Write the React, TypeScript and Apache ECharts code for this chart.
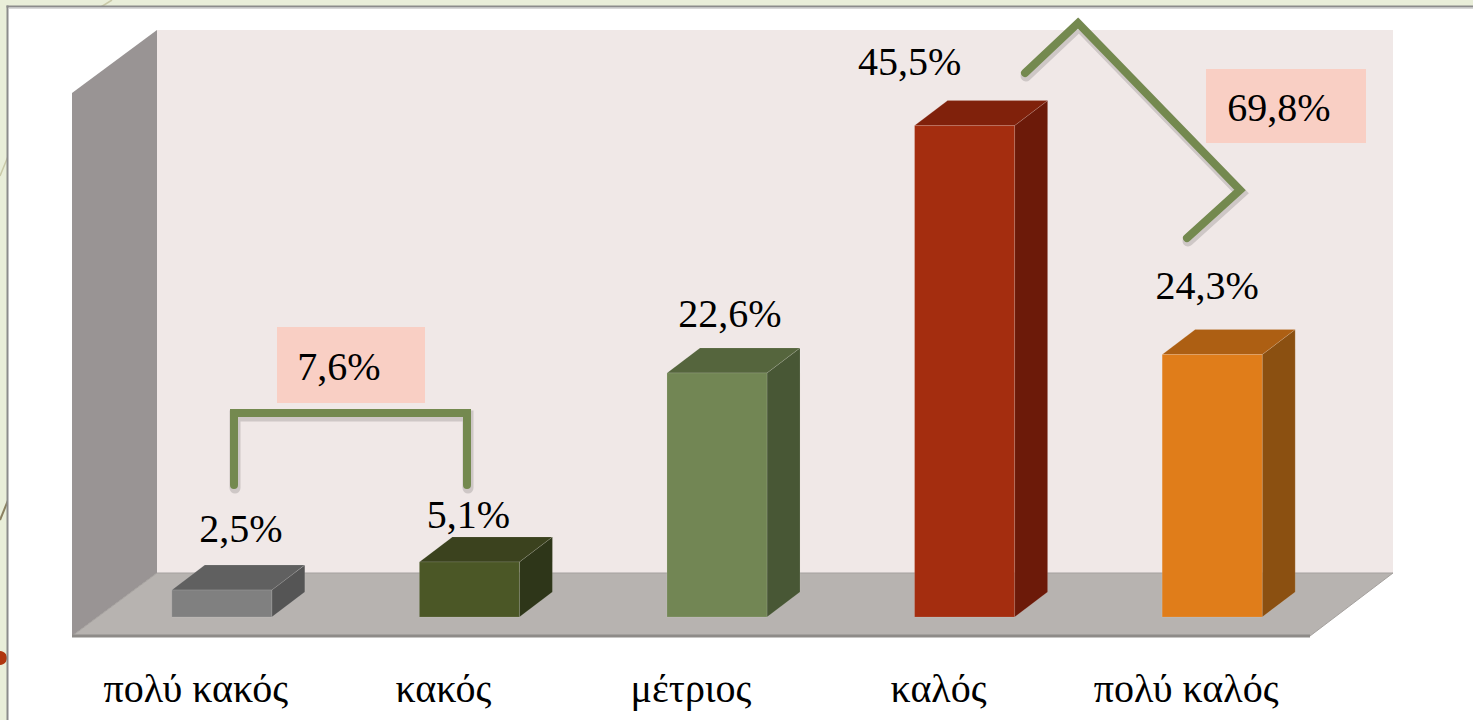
import React, { useEffect, useRef } from "react";
import * as echarts from "echarts";

// ---- data ----
const categories = ["πολύ κακός", "κακός", "μέτριος", "καλός", "πολύ καλός"];
const values = [2.5, 5.1, 22.6, 45.5, 24.3];
const valueLabels = ["2,5%", "5,1%", "22,6%", "45,5%", "24,3%"];
const groupLabels = ["7,6%", "69,8%"];

// ---- styles ----
const frontColors = ["#808080", "#4b5726", "#728654", "#a42d0f", "#e07d1a"];
const topColors = ["#606060", "#3b421e", "#55653d", "#80210b", "#ad5f13"];
const sideColors = ["#555555", "#2e3619", "#485735", "#6c1a09", "#8b5011"];
// label nudges relative to the bar's front-top centre
const labelNudge = [
  [19, -62],
  [-1, -47],
  [13, -59],
  [-55, -64],
  [-5, -69],
];

const FONT = "serif";
const FONT_SHORT = "40px 'Liberation Serif', serif";
const GREEN = "#74894f";

export default function App() {
  const ref = useRef<HTMLDivElement>(null);

  useEffect(() => {
    if (!ref.current) return;
    const chart = echarts.init(ref.current, undefined, { renderer: "svg" });

    const bracketStyle = {
      stroke: GREEN,
      lineWidth: 8,
      lineCap: "round",
      lineJoin: "miter",
      fill: null,
    };
    const shadowStyle = {
      stroke: "rgba(0,0,0,0.14)",
      lineWidth: 11,
      lineCap: "round",
      lineJoin: "miter",
      fill: null,
    };

    const txt = (text: string) => ({
      text,
      font: FONT_SHORT,
      fill: "#000",
      align: "center",
      verticalAlign: "middle",
    });

    const bracket1 = [[234, 485], [234, 413], [467, 413], [467, 485]];
    const bracket2 = [[1025, 73], [1078, 23], [1240, 190], [1187, 238]];
    const shift = (pts: number[][]) => pts.map((p) => [p[0] + 1, p[1] + 3]);

    const option: any = {
      animation: false,
      grid: { left: 72, top: 96, width: 1238, height: 540 },
      xAxis: {
        type: "category",
        data: categories,
        axisLine: { show: false },
        axisTick: { show: false },
        splitLine: { show: false },
        axisLabel: {
          interval: 0,
          margin: 32,
          fontSize: 40,
          fontFamily: FONT,
          color: "#000",
        },
      },
      yAxis: { type: "value", min: 0, max: 50, show: false },
      graphic: {
        elements: [
          // page background and decorations in the green margin
          { type: "rect", z: -10, shape: { x: 0, y: 0, width: 1473, height: 720 }, style: { fill: "#e9eed9" } },
          { type: "line", z: 0, shape: { x1: 112, y1: 0, x2: 96, y2: 10 }, style: { stroke: "#c9c9a8", lineWidth: 1.5 } },
          { type: "line", z: 0, shape: { x1: 0, y1: 176, x2: 9, y2: 154 }, style: { stroke: "#c9c9a8", lineWidth: 1.5 } },
          { type: "line", z: 0, shape: { x1: 0, y1: 520, x2: 9, y2: 498 }, style: { stroke: "#8a8060", lineWidth: 2 } },
          { type: "circle", z: 0, shape: { cx: 0, cy: 658, r: 7 }, style: { fill: "#b0360f" } },
          // white panel
          { type: "rect", z: 0, shape: { x: 8, y: 7, width: 1465, height: 713 }, style: { fill: "#ffffff" } },
          { type: "line", z: 0, shape: { x1: 7.5, y1: 5.5, x2: 7.5, y2: 720 }, style: { stroke: "#8c8c8c", lineWidth: 2 } },
          { type: "line", z: 0, shape: { x1: 6.5, y1: 6.5, x2: 1473, y2: 6.5 }, style: { stroke: "#8c8c8c", lineWidth: 2 } },
          { type: "line", z: 0, shape: { x1: 9, y1: 8.5, x2: 1473, y2: 8.5 }, style: { stroke: "#d8d8d8", lineWidth: 1 } },
          // back wall
          { type: "rect", z: 1, shape: { x: 157, y: 30, width: 1236, height: 543 }, style: { fill: "#f0e8e7" } },
          // left wall
          {
            type: "polygon",
            z: 1,
            shape: { points: [[72, 93], [157, 30], [157, 573], [72, 636]] },
            style: { fill: "#999494" },
          },
          // floor
          {
            type: "polygon",
            z: 1,
            shape: { points: [[157, 573], [1393, 573], [1310, 636], [72, 636]] },
            style: { fill: "#b7b3b0", stroke: "#a5a19e", lineWidth: 1 },
          },
          { type: "line", z: 1, shape: { x1: 72, y1: 636, x2: 1310, y2: 636 }, style: { stroke: "#8e8b88", lineWidth: 3 } },
          // annotation 1
          { type: "rect", z: 10, shape: { x: 277, y: 327, width: 148, height: 76 }, style: { fill: "#f9cfc4" } },
          { type: "text", z: 11, x: 339, y: 366, style: txt(groupLabels[0]) },
          { type: "polyline", z: 9, shape: { points: shift(bracket1) }, style: shadowStyle },
          { type: "polyline", z: 10, shape: { points: bracket1 }, style: bracketStyle },
          // annotation 2
          { type: "rect", z: 10, shape: { x: 1206, y: 69, width: 160, height: 74 }, style: { fill: "#f9cfc4" } },
          { type: "text", z: 11, x: 1279, y: 107, style: txt(groupLabels[1]) },
          { type: "polyline", z: 9, shape: { points: shift(bracket2) }, style: shadowStyle },
          { type: "polyline", z: 10, shape: { points: bracket2 }, style: bracketStyle },
        ],
      },
      series: [
        {
          type: "custom",
          z: 5,
          data: values.map((v, i) => [i, v]),
          encode: { x: 0, y: 1 },
          renderItem: (params: any, api: any) => {
            const i = api.value(0);
            const v = api.value(1);
            const base = api.coord([i, 0]);
            const top = api.coord([i, v]);
            const band = api.size([1, 0])[0];
            const w = band * 0.404;
            const ox = band * 0.105;
            const oy = -19;
            const dx = 33;
            const dy = -25;
            const cx = base[0] + ox;
            const x0 = cx - w / 2;
            const x1 = cx + w / 2;
            const yb = base[1] + oy;
            const yt = top[1] + oy;
            const edge = "rgba(255,255,255,0.12)";
            return {
              type: "group",
              children: [
                {
                  type: "polygon",
                  shape: { points: [[x1, yt], [x1 + dx, yt + dy], [x1 + dx, yb + dy], [x1, yb]] },
                  style: { fill: sideColors[i], stroke: edge, lineWidth: 1 },
                },
                {
                  type: "polygon",
                  shape: { points: [[x0, yt], [x1, yt], [x1 + dx, yt + dy], [x0 + dx, yt + dy]] },
                  style: { fill: topColors[i], stroke: edge, lineWidth: 1 },
                },
                {
                  type: "rect",
                  shape: { x: x0, y: yt, width: w, height: yb - yt },
                  style: { fill: frontColors[i], stroke: edge, lineWidth: 1 },
                },
                {
                  type: "text",
                  x: cx + labelNudge[i][0],
                  y: yt + labelNudge[i][1],
                  style: txt(valueLabels[i]),
                },
              ],
            };
          },
        },
      ],
    };

    chart.setOption(option);
    return () => chart.dispose();
  }, []);

  return (
    <div
      ref={ref}
      style={{ position: "absolute", left: 0, top: 0, width: 1473, height: 720 }}
    />
  );
}
